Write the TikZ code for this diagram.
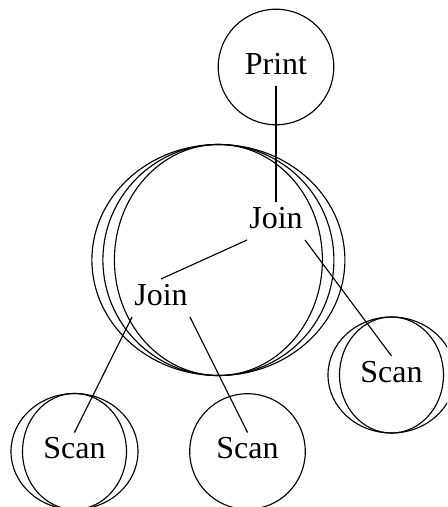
\documentclass[tikz,border=0pt]{standalone}
\usepackage{fontspec}
\setmainfont{Liberation Serif}
\tikzset{
  x=0.75pt,y=-0.75pt,
  lab/.style={rectangle,inner sep=0pt,outer sep=0pt,minimum width=43.5pt,minimum height=28.5pt,
    text height=19.7pt,text depth=8.8pt,font=\fontsize{24pt}{26pt}\selectfont},
  ring/.style={draw=black,line width=0.85pt},
  link/.style={draw=black,line width=0.85pt}
}
\begin{document}
\begin{tikzpicture}
\useasboundingbox (0,0) rectangle (447,507);
\clip (0,0) rectangle (447,507);
\coordinate (bigc) at (218.4,260);
\draw[ring] (bigc) ellipse [x radius=126.5,y radius=115.5];
\draw[ring] (bigc) ellipse [x radius=115.5,y radius=115.5];
\draw[ring] (bigc) ellipse [x radius=104,y radius=115.5];
\node[lab] (print) at (276,67) {Print};
\node[lab] (joinA) at (276,221) {Join};
\node[lab] (joinB) at (161,298) {Join};
\node[lab] (scanR) at (391.5,375) {Scan};
\node[lab] (scanL) at (74.5,451.5) {Scan};
\node[lab] (scanM) at (247.5,451.5) {Scan};
\draw[ring] (print.center) circle [radius=57.8];
\draw[ring] (scanR.center) ellipse [x radius=63.5,y radius=58];
\draw[ring] (scanR.center) ellipse [x radius=52,y radius=58];
\draw[ring] (scanL.center) ellipse [x radius=63.5,y radius=58];
\draw[ring] (scanL.center) ellipse [x radius=52,y radius=58];
\draw[ring] (scanM.center) circle [radius=57.8];
\draw[link] (print.south) -- (joinA.north);
\draw[link] (joinA.south west) -- (joinB.north);
\draw[link] (joinA.south east) -- (scanR.north);
\draw[link] (joinB.south west) -- (scanL.north);
\draw[link] (joinB.south east) -- (scanM.north);
\end{tikzpicture}
\end{document}
